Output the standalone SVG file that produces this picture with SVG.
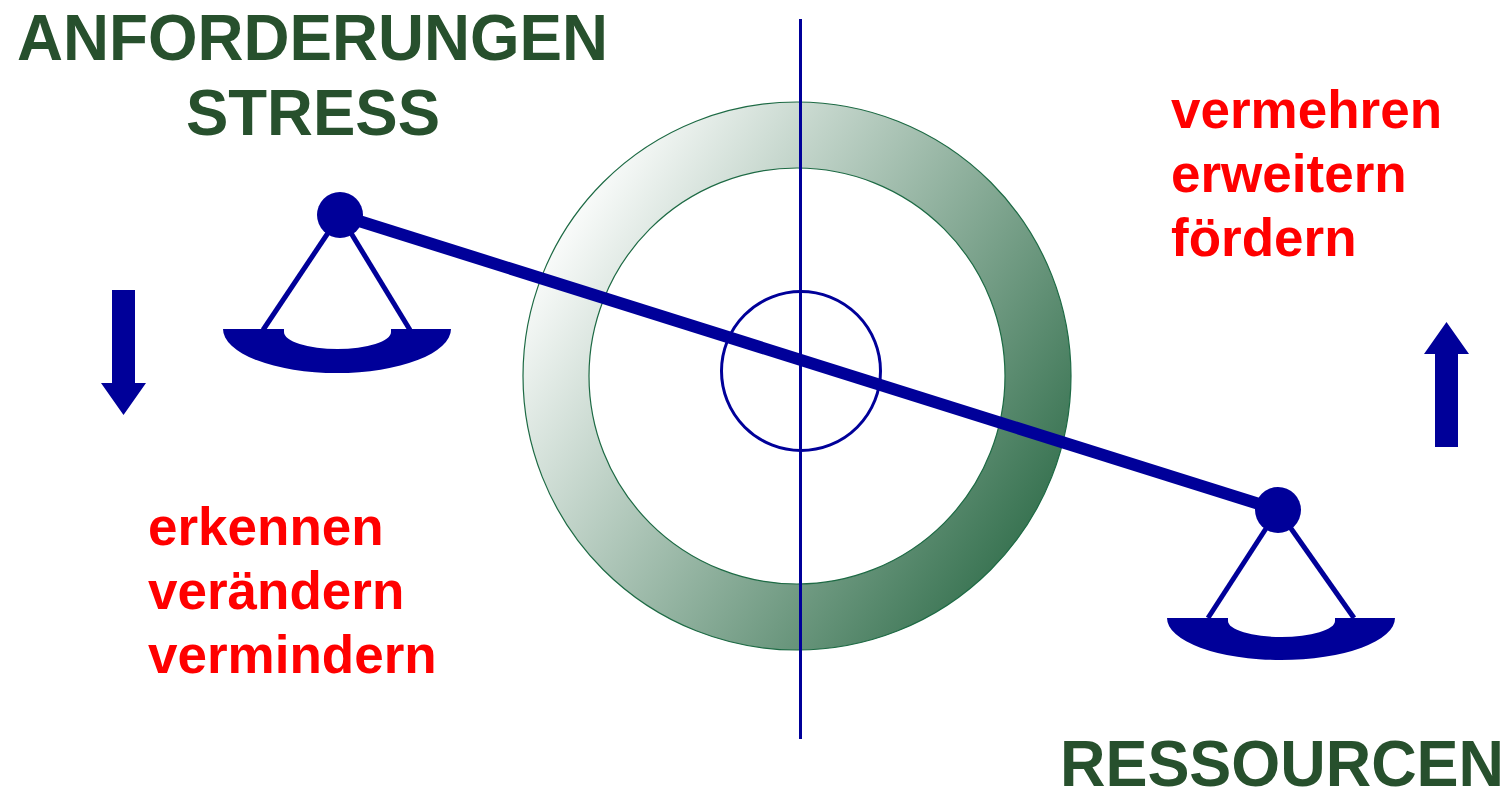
<svg xmlns="http://www.w3.org/2000/svg" width="1510" height="790" viewBox="0 0 1510 790">
<style>
.head{font-family:"Liberation Sans",Arial,sans-serif;font-weight:bold;font-size:64px;fill:#27502d}
.verb{font-family:"Liberation Sans",Arial,sans-serif;font-weight:bold;font-size:53px;fill:#ff0000}
.blue{fill:#000099}
.str{stroke:#000099;stroke-width:5;fill:none}
</style>
<defs>
<linearGradient id="ringGrad" gradientUnits="userSpaceOnUse" x1="545" y1="230" x2="1060" y2="560">
<stop offset="0" stop-color="#ffffff"/>
<stop offset="1" stop-color="#2a6945"/>
</linearGradient>
</defs>
<rect width="1510" height="790" fill="#ffffff"/>
<g id="ring">
<path d="M523,376 A274,274 0 1 0 1071,376 A274,274 0 1 0 523,376 Z M589,376 A208,208 0 1 1 1005,376 A208,208 0 1 1 589,376 Z" fill="url(#ringGrad)" fill-rule="evenodd" stroke="#1d6a44" stroke-width="1.2"/>
</g>
<g id="axis">
<line x1="800.5" y1="19" x2="800.5" y2="739" stroke="#000099" stroke-width="3"/>
<circle cx="801" cy="371" r="79.5" fill="none" stroke="#000099" stroke-width="3"/>
</g>
<g id="connectors">
<line x1="340" y1="215" x2="1278" y2="510" stroke="#000099" stroke-width="12"/>
</g>
<g id="left-scale">
<line class="str" x1="340" y1="215" x2="263" y2="330"/>
<line class="str" x1="340" y1="215" x2="410" y2="330"/>
<path class="blue" d="M223,329 H284 V332 A53.5,17 0 0 0 391,332 V329 H451 A114,44 0 0 1 223,329 Z"/>
<circle class="blue" cx="340" cy="215" r="23"/>
</g>
<g id="right-scale">
<line class="str" x1="1278" y1="510" x2="1208" y2="618"/>
<line class="str" x1="1278" y1="510" x2="1354" y2="618"/>
<path class="blue" d="M1167,618 H1228 V621 A53.5,16 0 0 0 1335,621 V618 H1395 A114,42 0 0 1 1167,618 Z"/>
<circle class="blue" cx="1278" cy="510" r="23"/>
</g>
<g id="arrow-down">
<path class="blue" d="M112,290 H135 V383 H146 L123.5,415 L101,383 H112 Z"/>
</g>
<g id="arrow-up">
<path class="blue" d="M1435,447 H1458 V354 H1469 L1446.5,322 L1424,354 H1435 Z"/>
</g>
<g id="title-left">
<text class="head" x="17" y="60" textLength="591" lengthAdjust="spacingAndGlyphs">ANFORDERUNGEN</text>
<text class="head" x="186" y="135" textLength="254" lengthAdjust="spacingAndGlyphs">STRESS</text>
</g>
<g id="title-right">
<text class="head" x="1060" y="786" textLength="444" lengthAdjust="spacingAndGlyphs">RESSOURCEN</text>
</g>
<g id="verbs-right">
<text class="verb" x="1171" y="128">vermehren</text>
<text class="verb" x="1171" y="192">erweitern</text>
<text class="verb" x="1171" y="256">fördern</text>
</g>
<g id="verbs-left">
<text class="verb" x="148" y="545">erkennen</text>
<text class="verb" x="148" y="609">verändern</text>
<text class="verb" x="148" y="673">vermindern</text>
</g>
</svg>
